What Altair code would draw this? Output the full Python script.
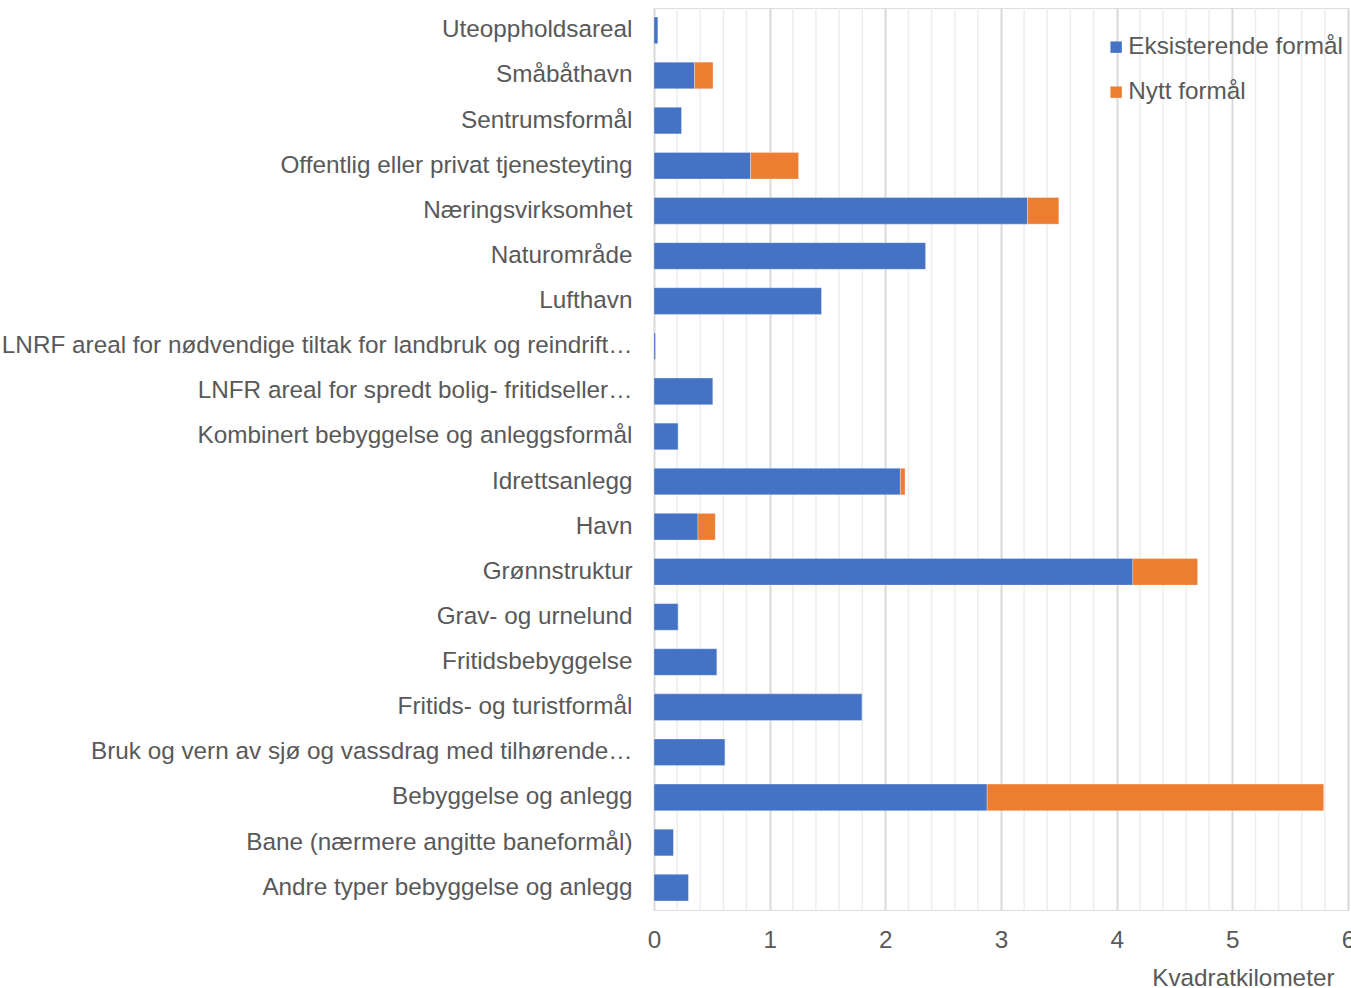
import altair as alt
import pandas as pd

categories = [
    "Uteoppholdsareal",
    "Småbåthavn",
    "Sentrumsformål",
    "Offentlig eller privat tjenesteyting",
    "Næringsvirksomhet",
    "Naturområde",
    "Lufthavn",
    "LNRF areal for nødvendige tiltak for landbruk og reindrift…",
    "LNFR areal for spredt bolig- fritidseller…",
    "Kombinert bebyggelse og anleggsformål",
    "Idrettsanlegg",
    "Havn",
    "Grønnstruktur",
    "Grav- og urnelund",
    "Fritidsbebyggelse",
    "Fritids- og turistformål",
    "Bruk og vern av sjø og vassdrag med tilhørende…",
    "Bebyggelse og anlegg",
    "Bane (nærmere angitte baneformål)",
    "Andre typer bebyggelse og anlegg",
]
existing = [0.035, 0.35, 0.24, 0.835, 3.23, 2.35, 1.45, 0.015, 0.51, 0.21,
            2.13, 0.38, 4.14, 0.21, 0.545, 1.80, 0.615, 2.88, 0.17, 0.30]
new = [0.0, 0.16, 0.0, 0.415, 0.27, 0.0, 0.0, 0.0, 0.0, 0.0,
       0.04, 0.15, 0.56, 0.0, 0.0, 0.0, 0.0, 2.91, 0.0, 0.0]
series = ["Eksisterende formål", "Nytt formål"]
colors = ["#4472C4", "#ED7D31"]
major_ticks = [0, 1, 2, 3, 4, 5, 6]
minor_ticks = [0.2, 0.4, 0.6, 0.8, 1.2, 1.4, 1.6, 1.8, 2.2, 2.4, 2.6, 2.8,
               3.2, 3.4, 3.6, 3.8, 4.2, 4.4, 4.6, 4.8, 5.2, 5.4, 5.6, 5.8]

rows = []
for c, e, n in zip(categories, existing, new):
    rows.append({"kategori": c, "serie": series[0], "verdi": e})
    rows.append({"kategori": c, "serie": series[1], "verdi": n})
df = pd.DataFrame(rows)
grid_df = pd.DataFrame({"v": minor_ticks})

FONT = "Liberation Sans"
TXT = "#595959"
FS = 24.3

xscale = alt.Scale(domain=[0, 6], nice=False, zero=True)

minor = alt.Chart(grid_df).mark_rule(color="#ededed", strokeWidth=1.5).encode(
    x=alt.X(
        "v:Q",
        scale=xscale,
        axis=alt.Axis(orient="top", labels=False, ticks=False, domain=False,
                      grid=False, title=None),
    )
)

bars = alt.Chart(df).mark_bar(stroke="#ffffff", strokeWidth=0.6, strokeOpacity=0.5).encode(
    y=alt.Y(
        "kategori:N",
        sort=categories,
        scale=alt.Scale(paddingInner=0.41, paddingOuter=0.2),
        axis=alt.Axis(
            title=None,
            labelFont=FONT,
            labelFontSize=FS,
            labelColor=TXT,
            labelPadding=22,
            labelLimit=700,
            ticks=False,
            domain=False,
            grid=False,
        ),
    ),
    x=alt.X(
        "verdi:Q",
        stack="zero",
        scale=xscale,
        axis=alt.Axis(
            orient="bottom",
            title="Kvadratkilometer",
            titleFont=FONT,
            titleFontSize=FS,
            titleFontWeight="normal",
            titleColor=TXT,
            titleAnchor="end",
            titleAlign="right",
            titleBaseline="middle",
            titleX=680,
            titleY=68,
            values=major_ticks,
            format="d",
            labelFont=FONT,
            labelFontSize=FS,
            labelColor=TXT,
            labelPadding=18,
            labelFlush=False,
            labelOverlap=False,
            ticks=False,
            domain=False,
            grid=True,
            gridColor="#d9d9d9",
            gridWidth=2,
        ),
    ),
    color=alt.Color(
        "serie:N",
        scale=alt.Scale(domain=series, range=colors),
        legend=alt.Legend(
            title=None,
            orient="none",
            legendX=450,
            legendY=27,
            symbolType="square",
            symbolSize=130,
            symbolStrokeWidth=0,
            labelFont=FONT,
            labelFontSize=FS,
            labelColor=TXT,
            labelOffset=0,
            labelLimit=400,
            rowPadding=20,
        ),
    ),
    order=alt.Order("serie:N", sort="ascending"),
)

chart = (
    alt.layer(minor, bars)
    .resolve_axis(x="independent")
    .properties(
        width=694,
        height=902,
        autosize=alt.AutoSizeParams(type="none"),
        padding={"left": 654, "top": 8, "right": 3, "bottom": 78},
    )
    .configure_view(strokeWidth=0, stroke="transparent")
    .configure_axis(domainOpacity=0)
    .configure(background="white")
)

chart.save("out.html", embed_options={"renderer": "svg", "actions": False})
